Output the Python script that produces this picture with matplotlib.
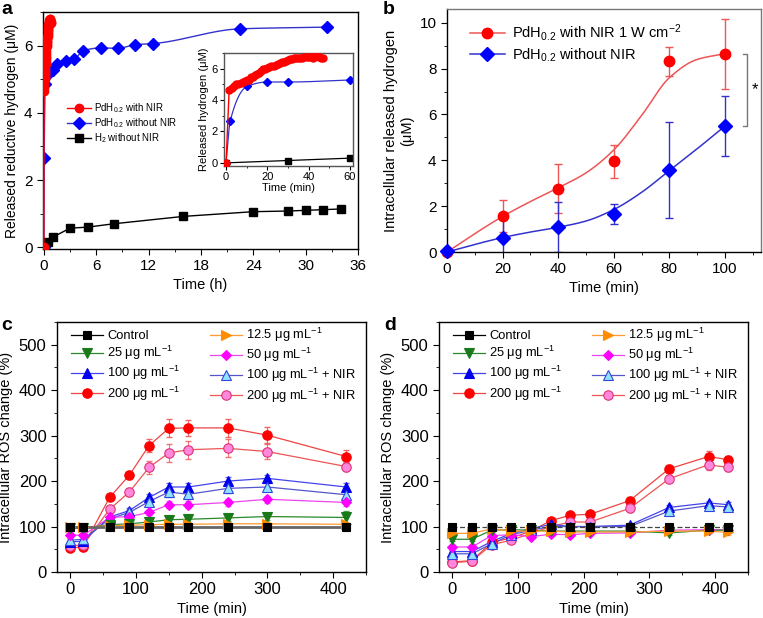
import numpy as np
import matplotlib
matplotlib.use('Agg')
import matplotlib.pyplot as plt
from matplotlib.ticker import MultipleLocator

plt.rcParams['font.family'] = ['Liberation Sans', 'DejaVu Sans']
plt.rcParams['mathtext.default'] = 'regular'
plt.rcParams['axes.linewidth'] = 1.0

# ---------------- panel a data ----------------
# PdH0.2 with NIR (minutes, dense record)
a_red_t = [0, 1.5, 3, 4, 5, 6, 7, 8, 9, 10, 11, 12, 13, 14, 15, 16, 17, 18, 19, 20,
           21, 22, 23, 24, 25, 26, 27, 28, 29, 30, 31, 32, 33, 34, 35, 36, 37, 38,
           39, 40, 41, 42, 43, 44, 45, 46, 47]
a_red_v = [0.0, 4.65, 4.75, 4.9, 5.0, 5.05, 5.1, 5.15, 5.2, 5.25, 5.3, 5.45, 5.5, 5.6,
           5.65, 5.75, 5.85, 5.95, 6.0, 6.05, 6.1, 6.15, 6.2, 6.25, 6.3, 6.35, 6.4, 6.45,
           6.5, 6.55, 6.6, 6.62, 6.65, 6.65, 6.68, 6.7, 6.7, 6.75, 6.72, 6.72, 6.75, 6.7,
           6.8, 6.78, 6.72, 6.7, 6.68]
# PdH0.2 without NIR (hours)
a_blue_h = [0, 0.033, 0.17, 0.33, 0.5, 1.0, 1.5, 2.5, 3.5, 4.5, 6.5, 8.5, 10.5, 12.5, 22.5, 32.5]
a_blue_v = [0.0, 2.65, 4.87, 5.15, 5.15, 5.28, 5.45, 5.55, 5.6, 5.85, 5.93, 5.92, 6.03, 6.06, 6.5, 6.55]
# H2 without NIR (hours)
a_black_h = [0, 0.5, 1, 3, 5, 8, 16, 24, 28, 30, 32, 34]
a_black_v = [0.0, 0.15, 0.3, 0.57, 0.6, 0.7, 0.92, 1.06, 1.08, 1.1, 1.12, 1.14]

# ---------------- panel b data ----------------
t_b = [0, 20, 40, 60, 80, 100]
b_red = [0.0, 1.57, 2.76, 3.95, 8.31, 8.65]
b_red_err = [0, 0.7, 1.08, 0.72, 0.63, 1.53]
b_blue = [0.05, 0.63, 1.08, 1.65, 3.59, 5.5]
b_blue_err = [0, 0.85, 1.08, 0.45, 2.1, 1.3]
fit_t = [0, 10, 20, 30, 40, 50, 60, 70, 80, 90, 100]
fit_red = [0, 0.8, 1.55, 2.2, 2.8, 3.45, 4.45, 5.95, 7.6, 8.4, 8.65]
fit_blue = [0, 0.33, 0.63, 0.87, 1.08, 1.35, 1.85, 2.6, 3.55, 4.5, 5.49]

# ---------------- panel c data ----------------
t_c = [0, 20, 60, 90, 120, 150, 180, 240, 300, 420]
c_ctrl = [100, 100, 100, 100, 100, 100, 100, 100, 100, 100]
c_12 = [98, 98, 102, 103, 104, 105, 105, 106, 106, 105]
c_25 = [97, 97, 104, 106, 110, 115, 116, 119, 122, 120]
c_50 = [81, 81, 120, 122, 131, 148, 148, 153, 160, 153]
c_100 = [66, 68, 121, 135, 164, 187, 187, 200, 206, 187]
c_100n = [70, 72, 117, 131, 155, 176, 171, 184, 187, 170]
c_200 = [52, 56, 164, 213, 278, 316, 317, 317, 301, 254]
c_200n = [57, 60, 138, 176, 230, 262, 269, 272, 265, 232]
ce_ctrl = [2, 2, 2, 2, 2, 2, 2, 2, 2, 2]
ce_12 = [3, 3, 3, 3, 3, 4, 4, 4, 4, 4]
ce_25 = [3, 3, 4, 4, 5, 6, 6, 6, 7, 14]
ce_50 = [4, 4, 5, 6, 6, 8, 8, 8, 8, 8]
ce_100 = [4, 4, 5, 6, 8, 8, 8, 8, 8, 8]
ce_100n = [4, 4, 5, 6, 8, 10, 10, 10, 8, 8]
ce_200 = [5, 5, 6, 8, 15, 20, 18, 20, 18, 14]
ce_200n = [5, 5, 6, 8, 15, 20, 20, 20, 16, 10]

# ---------------- panel d data ----------------
t_d = [0, 30, 60, 90, 120, 150, 180, 210, 270, 330, 390, 420]
d_ctrl = [100, 100, 100, 100, 100, 100, 100, 100, 100, 100, 100, 100]
d_12 = [85, 85, 95, 90, 90, 90, 88, 88, 88, 90, 90, 87]
d_25 = [72, 72, 92, 93, 92, 90, 90, 90, 90, 86, 92, 92]
d_50 = [55, 55, 80, 82, 78, 83, 82, 85, 86, 92, 93, 93]
d_100 = [45, 45, 67, 85, 95, 105, 100, 100, 103, 142, 152, 148]
d_100n = [40, 40, 62, 82, 92, 100, 100, 100, 100, 134, 146, 143]
d_200 = [22, 25, 65, 75, 90, 113, 125, 127, 157, 227, 254, 247]
d_200n = [20, 24, 60, 70, 85, 100, 110, 110, 140, 205, 236, 230]
de_small = [3, 3, 4, 4, 4, 4, 4, 4, 4, 5, 5, 5]
de_200 = [4, 4, 5, 5, 6, 6, 6, 6, 7, 8, 12, 8]


def smooth(x, y, n=300):
    # monotone cubic (pchip) through the knots, for the fitted curves
    x = np.asarray(x, float)
    y = np.asarray(y, float)
    h = np.diff(x)
    d = np.diff(y) / h
    m = np.zeros_like(y)
    m[0], m[-1] = d[0], d[-1]
    for k in range(1, len(x) - 1):
        if d[k - 1] * d[k] > 0:
            w1 = 2 * h[k] + h[k - 1]
            w2 = h[k] + 2 * h[k - 1]
            m[k] = (w1 + w2) / (w1 / d[k - 1] + w2 / d[k])
    xs = np.linspace(x[0], x[-1], n)
    i = np.clip(np.searchsorted(x, xs) - 1, 0, len(h) - 1)
    t = (xs - x[i]) / h[i]
    ys = ((2 * t**3 - 3 * t**2 + 1) * y[i] + (t**3 - 2 * t**2 + t) * h[i] * m[i]
          + (-2 * t**3 + 3 * t**2) * y[i + 1] + (t**3 - t**2) * h[i] * m[i + 1])
    return xs, ys


W, H = 763, 618
fig = plt.figure(figsize=(W / 100, H / 100), dpi=100)


def px_axes(l, t, r, b):
    return fig.add_axes([l / W, 1 - b / H, (r - l) / W, (b - t) / H])


def style(ax, size):
    ax.tick_params(which='both', direction='out', top=False, right=False, labelsize=size)
    ax.tick_params(which='major', length=4)
    ax.tick_params(which='minor', length=2.5)


# ================= a =================
ax = px_axes(43, 12, 358, 249)
red_h = np.array(a_red_t) / 60.0
ax.plot(red_h, a_red_v, '-', color='red', lw=1, marker='o', ms=6, mfc='red', mec='red',
        label='PdH$_{0.2}$ with NIR', zorder=4)
bx, by = smooth(a_blue_h, a_blue_v, 800)
ax.plot(bx, by, '-', color='#3333cc', lw=1, zorder=3)
ax.plot(a_blue_h, a_blue_v, 'D', color='blue', ms=6, zorder=3)
ax.plot([], [], '-', color='#3333cc', lw=1, marker='D', ms=6, mfc='blue', mec='blue',
        label='PdH$_{0.2}$ without NIR')
ax.plot(a_black_h, a_black_v, '-', color='black', lw=1, marker='s', ms=6,
        label='H$_2$ without NIR', zorder=3)
ax.set_xlim(-0.1, 36)
ax.set_ylim(-0.05, 7.0)
ax.xaxis.set_major_locator(MultipleLocator(6))
ax.xaxis.set_minor_locator(MultipleLocator(3))
ax.yaxis.set_major_locator(MultipleLocator(2))
ax.yaxis.set_minor_locator(MultipleLocator(1))
style(ax, 11)
ax.set_xlabel('Time (h)', fontsize=10.5, labelpad=3)
ax.set_ylabel('Released reductive hydrogen (μM)', fontsize=10, labelpad=4)
ax.legend(loc='upper left', bbox_to_anchor=(0.06, 0.645), frameon=False, fontsize=7,
          handlelength=2.5, handletextpad=0.3, labelspacing=0.12, borderpad=0)
fig.text(1 / W, 1 - 14 / H, 'a', fontsize=14, fontweight='bold')

# inset
ai = px_axes(224, 53, 353, 166)
ai.plot(a_red_t, a_red_v, '-', color='red', lw=1, marker='o', ms=5, mfc='red', mec='red', zorder=4)
ix, iy = smooth(np.array(a_blue_h[:6]) * 60, a_blue_v[:6], 300)
ai.plot(ix, iy, '-', color='#3333cc', lw=0.9)
ai.plot(np.array(a_blue_h[:6]) * 60, a_blue_v[:6], 'D', color='blue', ms=4.5)
ai.plot(np.array(a_black_h[:3]) * 60, a_black_v[:3], '-', color='black', lw=0.9, marker='s', ms=4.5)
ai.set_xlim(-1, 61.5)
ai.set_ylim(-0.2, 7.0)
ai.xaxis.set_major_locator(MultipleLocator(20))
ai.xaxis.set_minor_locator(MultipleLocator(10))
ai.yaxis.set_major_locator(MultipleLocator(2))
ai.yaxis.set_minor_locator(MultipleLocator(1))
style(ai, 8)
ai.tick_params(which='major', length=3, pad=1.5)
ai.tick_params(which='minor', length=1.5)
for s in ai.spines.values():
    s.set_color('#555555')
ai.set_xlabel('Time (min)', fontsize=8, labelpad=0.5)
ai.set_ylabel('Released hydrogen (μM)', fontsize=8, labelpad=2)

# ================= b =================
bx_ax = px_axes(447, 9, 761, 252)
fx, fy = smooth(fit_t, fit_red)
bx_ax.plot(fx, fy, '-', color='#ee5555', lw=1.1)
fx, fy = smooth(fit_t, fit_blue)
bx_ax.plot(fx, fy, '-', color='#3333cc', lw=1.1)
bx_ax.errorbar(t_b, b_red, yerr=b_red_err, fmt='none', ecolor='#ee5555', elinewidth=1, capsize=3)
bx_ax.errorbar(t_b, b_blue, yerr=b_blue_err, fmt='none', ecolor='#3333cc', elinewidth=1, capsize=3)
bx_ax.plot(t_b, b_red, 'o', color='red', ms=7.5, clip_on=False, zorder=4)
bx_ax.plot(t_b, b_blue, 'D', color='blue', ms=7, clip_on=False, zorder=4)
bx_ax.plot([], [], '-', color='#ee5555', lw=1.1, marker='o', ms=7.5, mfc='red', mec='red',
           label='PdH$_{0.2}$ with NIR 1 W cm$^{-2}$')
bx_ax.plot([], [], '-', color='#3333cc', lw=1.1, marker='D', ms=7, mfc='blue', mec='blue',
           label='PdH$_{0.2}$ without NIR')
bx_ax.plot([106.5, 108, 108, 106.5], [b_red[-1], b_red[-1], b_blue[-1], b_blue[-1]],
           '-', color='#777777', lw=1)
bx_ax.text(110.8, (b_red[-1] + b_blue[-1]) / 2, '*', fontsize=12, ha='center', va='center')
bx_ax.set_xlim(0, 113)
bx_ax.set_ylim(0, 10.6)
bx_ax.xaxis.set_major_locator(MultipleLocator(20))
bx_ax.xaxis.set_minor_locator(MultipleLocator(10))
bx_ax.yaxis.set_major_locator(MultipleLocator(2))
bx_ax.yaxis.set_minor_locator(MultipleLocator(1))
style(bx_ax, 11)
bx_ax.spines['top'].set_color('#777777')
bx_ax.spines['right'].set_color('#777777')
bx_ax.set_xlabel('Time (min)', fontsize=10.5, labelpad=3)
bx_ax.set_ylabel('Intracellular released hydrogen\n(μM)', fontsize=10.5, labelpad=4)
bx_ax.legend(loc='upper left', bbox_to_anchor=(0.05, 0.975), frameon=False, fontsize=10.5,
             handlelength=2.4, handletextpad=0.5, labelspacing=0.2, borderpad=0)
fig.text(383 / W, 1 - 14 / H, 'b', fontsize=14, fontweight='bold')

# ================= c, d =================
unit = ' μg mL$^{-1}$'
series_style = [
    # label, marker, line colour, face colour, edge colour
    ('Control', 's', 'black', 'black', 'black'),
    ('25' + unit, 'v', '#2a8a2a', '#1a7a1a', '#1a7a1a'),
    ('100' + unit, '^', '#4444ee', '#0000ee', '#0000ee'),
    ('200' + unit, 'o', '#ee4444', '#ff0000', '#ff0000'),
    ('12.5' + unit, '>', '#ff9a33', '#ff8c00', '#ff8c00'),
    ('50' + unit, 'D', '#ee44ee', '#ff00ff', '#ff00ff'),
    ('100' + unit + ' + NIR', '^', '#5555cc', '#8fe3ff', '#3344dd'),
    ('200' + unit + ' + NIR', 'o', '#ee5555', '#ff88dd', '#dd3377'),
]


def msize(mk):
    return 5.5 if mk == 'D' else (6.2 if mk == 's' else 6.8)


def ros_panel(ax, t, values, errs, ctrl_ls, ctrl_color):
    # draw in back-to-front order: control last so black squares stay visible
    draw_order = [3, 7, 2, 6, 5, 1, 4, 0]
    handles = {}
    for n, k in enumerate(draw_order):
        lab, mk, lc, fc, ec = series_style[k]
        ls = ctrl_ls if k == 0 else '-'
        col = ctrl_color if k == 0 else lc
        lw = 2.0 if (k == 0 and ctrl_ls == '-') else 0.9
        ax.errorbar(t, values[k], yerr=errs[k], fmt='none', ecolor=lc, elinewidth=0.8,
                    capsize=2, alpha=0.8, zorder=2 + n * 0.01)
        ax.plot(t, values[k], ls=ls, color=col, lw=lw, zorder=2.5 + n * 0.01)
        ax.plot(t, values[k], mk, ms=msize(mk), mfc=fc, mec=ec, mew=0.8, zorder=3 + n * 0.01)
        h, = ax.plot([], [], '-', color=lc, lw=0.9, marker=mk, ms=msize(mk),
                     mfc=fc, mec=ec, mew=0.8, label=lab)
        handles[k] = h
    ax.legend([handles[k] for k in range(8)], [series_style[k][0] for k in range(8)],
              loc='upper left', bbox_to_anchor=(0.025, 1.01), ncol=2, frameon=False,
              fontsize=9.3, handlelength=2.5, handletextpad=0.3, labelspacing=0.15,
              columnspacing=2.3, borderpad=0)
    ax.set_xlim(-20, 450)
    ax.set_ylim(0, 550)
    ax.xaxis.set_major_locator(MultipleLocator(100))
    ax.xaxis.set_minor_locator(MultipleLocator(50))
    ax.yaxis.set_major_locator(MultipleLocator(100))
    ax.yaxis.set_minor_locator(MultipleLocator(50))
    style(ax, 12)
    ax.set_xlabel('Time (min)', fontsize=10.5, labelpad=3)
    ax.set_ylabel('Intracellular ROS change (%)', fontsize=10.5, labelpad=4)


ac = px_axes(57, 322, 366, 572)
ros_panel(ac, t_c, [c_ctrl, c_25, c_100, c_200, c_12, c_50, c_100n, c_200n],
          [ce_ctrl, ce_25, ce_100, ce_200, ce_12, ce_50, ce_100n, ce_200n], '-', '#666666')
fig.text(1 / W, 1 - 330 / H, 'c', fontsize=14, fontweight='bold')

ad = px_axes(439, 322, 748, 572)
ros_panel(ad, t_d, [d_ctrl, d_25, d_100, d_200, d_12, d_50, d_100n, d_200n],
          [de_small, de_small, de_small, de_200, de_small, de_small, de_small, de_200],
          (0, (4, 2)), '#444444')
fig.text(384 / W, 1 - 330 / H, 'd', fontsize=14, fontweight='bold')

fig.savefig('out.png', dpi=100)
